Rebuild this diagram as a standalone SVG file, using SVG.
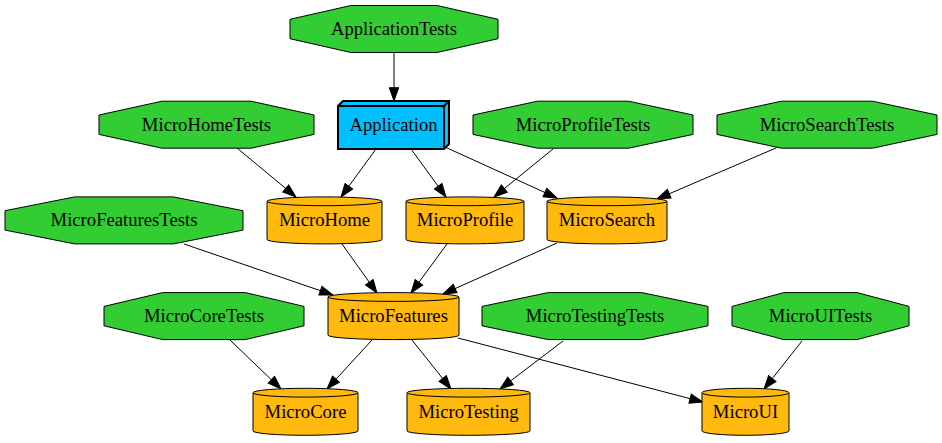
<svg xmlns="http://www.w3.org/2000/svg" width="942" height="443" viewBox="0 0 942 443">
<style>
.oct{fill:#32cd32;stroke:#000;stroke-width:1}
.cyl{fill:#ffb90f;stroke:#000;stroke-width:1}
.box{fill:#00bfff;stroke:#000;stroke-width:2}
.lbl{font-family:'Liberation Serif',serif;font-size:18.67px;text-anchor:middle;fill:#000}
.edge{stroke:#000;stroke-width:1;fill:none;marker-end:url(#arr)}
</style>
<defs>
<marker id="arr" markerUnits="userSpaceOnUse" markerWidth="16" markerHeight="12" refX="13.3" refY="5" orient="auto" viewBox="-1 0 16 10">
<path d="M0,0.33 L13.3,5 L0,9.67 Z" fill="#000" stroke="#000" stroke-width="1"/>
</marker>
</defs>
<rect width="942" height="443" fill="#fff"/>
<g id="edges">
<line class="edge" x1="394" y1="52.5" x2="394" y2="101"/>
<line class="edge" x1="376" y1="149" x2="341" y2="197"/>
<line class="edge" x1="411" y1="149" x2="446" y2="197"/>
<line class="edge" x1="445" y1="147" x2="557" y2="198"/>
<line class="edge" x1="237" y1="148" x2="296" y2="197"/>
<line class="edge" x1="553" y1="149" x2="494" y2="197"/>
<line class="edge" x1="776" y1="148" x2="657" y2="199"/>
<line class="edge" x1="184" y1="244" x2="333" y2="295"/>
<line class="edge" x1="342" y1="244" x2="377" y2="293"/>
<line class="edge" x1="447" y1="244" x2="411" y2="293"/>
<line class="edge" x1="557" y1="243" x2="443" y2="294"/>
<line class="edge" x1="230" y1="340" x2="281" y2="389"/>
<line class="edge" x1="372" y1="340" x2="327" y2="389"/>
<line class="edge" x1="412" y1="340" x2="451" y2="389"/>
<line class="edge" x1="563" y1="341" x2="500" y2="389"/>
<line class="edge" x1="458" y1="338" x2="703" y2="402"/>
<line class="edge" x1="802" y1="341" x2="764" y2="389"/>
</g>
<g id="ApplicationTests">
<polygon class="oct" points="437.1,5.5 350.9,5.5 290,19.3 290,38.7 350.9,52.5 437.1,52.5 498,38.7 498,19.3"/>
<text class="lbl" font-family="Liberation Serif" x="394" y="35">ApplicationTests</text>
</g>
<g id="MicroHomeTests">
<polygon class="oct" points="251,101.2 162,101.2 99,115 99,134.4 162,148.2 251,148.2 314,134.4 314,115"/>
<text class="lbl" font-family="Liberation Serif" x="206.5" y="130.7">MicroHomeTests</text>
</g>
<g id="Application">
<polygon class="box" points="449,101 343,101 338,106 338,149 444,149 449,144"/>
<path class="box" fill="none" d="M338,106 L444,106 L444,149 M444,106 L449,101"/>
<text class="lbl" font-family="Liberation Serif" x="393.5" y="131">Application</text>
</g>
<g id="MicroProfileTests">
<polygon class="oct" points="628.5,101.2 537.5,101.2 473,115 473,134.4 537.5,148.2 628.5,148.2 693,134.4 693,115"/>
<text class="lbl" font-family="Liberation Serif" x="583" y="130.7">MicroProfileTests</text>
</g>
<g id="MicroSearchTests">
<polygon class="oct" points="872.5,101.2 781.5,101.2 717,115 717,134.4 781.5,148.2 872.5,148.2 937,134.4 937,115"/>
<text class="lbl" font-family="Liberation Serif" x="827" y="130.7">MicroSearchTests</text>
</g>
<g id="MicroFeaturesTests">
<polygon class="oct" points="173.3,196.9 74.7,196.9 5,210.7 5,230.1 74.7,243.9 173.3,243.9 243,230.1 243,210.7"/>
<text class="lbl" font-family="Liberation Serif" x="124" y="226.4">MicroFeaturesTests</text>
</g>
<g id="MicroHome">
<path class="cyl" d="M267,201.3 A57.5,4.4 0 0 1 382,201.3 L382,239.5 A57.5,4.4 0 0 1 267,239.5 Z"/>
<path class="cyl" fill="none" d="M267,201.3 A57.5,4.4 0 0 0 382,201.3"/>
<text class="lbl" font-family="Liberation Serif" x="324.5" y="226.4">MicroHome</text>
</g>
<g id="MicroProfile">
<path class="cyl" d="M406,201.3 A59,4.4 0 0 1 524,201.3 L524,239.5 A59,4.4 0 0 1 406,239.5 Z"/>
<path class="cyl" fill="none" d="M406,201.3 A59,4.4 0 0 0 524,201.3"/>
<text class="lbl" font-family="Liberation Serif" x="465" y="226.4">MicroProfile</text>
</g>
<g id="MicroSearch">
<path class="cyl" d="M547,201.3 A60,4.4 0 0 1 667,201.3 L667,239.5 A60,4.4 0 0 1 547,239.5 Z"/>
<path class="cyl" fill="none" d="M547,201.3 A60,4.4 0 0 0 667,201.3"/>
<text class="lbl" font-family="Liberation Serif" x="607" y="226.4">MicroSearch</text>
</g>
<g id="MicroCoreTests">
<polygon class="oct" points="245.4,292.6 162.6,292.6 104,306.4 104,325.8 162.6,339.6 245.4,339.6 304,325.8 304,306.4"/>
<text class="lbl" font-family="Liberation Serif" x="204" y="322.1">MicroCoreTests</text>
</g>
<g id="MicroFeatures">
<path class="cyl" d="M328,297 A65.5,4.4 0 0 1 459,297 L459,335.2 A65.5,4.4 0 0 1 328,335.2 Z"/>
<path class="cyl" fill="none" d="M328,297 A65.5,4.4 0 0 0 459,297"/>
<text class="lbl" font-family="Liberation Serif" x="393.5" y="322.1">MicroFeatures</text>
</g>
<g id="MicroTestingTests">
<polygon class="oct" points="641.8,292.6 548.2,292.6 482,306.4 482,325.8 548.2,339.6 641.8,339.6 708,325.8 708,306.4"/>
<text class="lbl" font-family="Liberation Serif" x="595" y="322.1">MicroTestingTests</text>
</g>
<g id="MicroUITests">
<polygon class="oct" points="857.1,292.6 783.9,292.6 732,306.4 732,325.8 783.9,339.6 857.1,339.6 909,325.8 909,306.4"/>
<text class="lbl" font-family="Liberation Serif" x="820.5" y="322.1">MicroUITests</text>
</g>
<g id="MicroCore">
<path class="cyl" d="M253,392.7 A52.5,4.4 0 0 1 358,392.7 L358,430.9 A52.5,4.4 0 0 1 253,430.9 Z"/>
<path class="cyl" fill="none" d="M253,392.7 A52.5,4.4 0 0 0 358,392.7"/>
<text class="lbl" font-family="Liberation Serif" x="305.5" y="417.8">MicroCore</text>
</g>
<g id="MicroTesting">
<path class="cyl" d="M407,392.7 A61.5,4.4 0 0 1 530,392.7 L530,430.9 A61.5,4.4 0 0 1 407,430.9 Z"/>
<path class="cyl" fill="none" d="M407,392.7 A61.5,4.4 0 0 0 530,392.7"/>
<text class="lbl" font-family="Liberation Serif" x="468.5" y="417.8">MicroTesting</text>
</g>
<g id="MicroUI">
<path class="cyl" d="M702,392.7 A43.5,4.4 0 0 1 789,392.7 L789,430.9 A43.5,4.4 0 0 1 702,430.9 Z"/>
<path class="cyl" fill="none" d="M702,392.7 A43.5,4.4 0 0 0 789,392.7"/>
<text class="lbl" font-family="Liberation Serif" x="745.5" y="417.8">MicroUI</text>
</g>
</svg>
